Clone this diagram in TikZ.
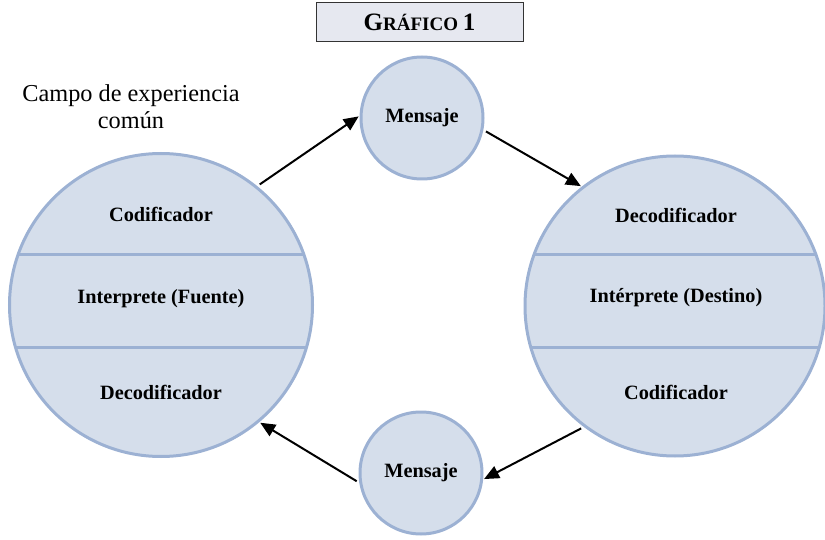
\documentclass[tikz,border=0pt]{standalone}
\usepackage{fontspec}
\setmainfont{Liberation Serif}
\usetikzlibrary{arrows.meta}
\definecolor{cfill}{HTML}{D5DEEB}
\definecolor{cline}{HTML}{9CB1D3}
\definecolor{tfill}{HTML}{E6E8F0}
\begin{document}
\begin{tikzpicture}[x=1pt,y=-1pt,
  bigc/.style={circle,fill=cfill,draw=cline,line width=3pt,inner sep=0pt},
  smallc/.style={circle,fill=cfill,draw=cline,line width=3pt,minimum size=122pt,inner sep=0pt},
  lab/.style={font=\fontsize{20.3}{24}\selectfont\bfseries},
  chord/.style={draw=cline,line width=3pt},
  arr/.style={line width=2pt,-{Triangle[length=15pt,width=13pt]},shorten <=3pt,shorten >=1pt}]
\useasboundingbox (0,0) rectangle (825,540);
% title
\node[draw=black!80,fill=tfill,line width=1pt,minimum width=207pt,minimum height=39pt,
  font=\bfseries] (T) at (419.5,22.5)
  {\fontsize{25}{28}\selectfont G\fontsize{19}{28}\selectfont RÁFICO \fontsize{25}{28}\selectfont 1};
% caption
\node[align=center,font=\fontsize{24.3}{27}\selectfont] (C) at (131,107) {Campo de experiencia\\común};
% big circles
\node[bigc,minimum size=303pt] (L) at (161,305) {};
\node[bigc,minimum size=300pt] (R) at (675,306) {};
\begin{scope}
  \clip (161,305) circle (151.5pt);
  \draw[chord] (0,255) -- (330,255) (0,347) -- (330,347);
\end{scope}
\begin{scope}
  \clip (675,306) circle (150pt);
  \draw[chord] (500,255) -- (830,255) (500,347) -- (830,347);
\end{scope}
\node[lab] (L1) at (161,214) {Codificador};
\node[lab] (L2) at (161,299) {Interprete (Fuente)};
\node[lab] (L3) at (161,392) {Decodificador};
\node[lab] (R1) at (676,215) {Decodificador};
\node[lab] (R2) at (676,298) {Intérprete (Destino)};
\node[lab] (R3) at (676,392) {Codificador};
% small circles
\node[smallc,lab] (M1) at (422,118) {Mensaje};
\node[smallc,lab] (M2) at (421,473) {Mensaje};
% arrows
\draw[arr] (L.51) -- (M1.178);
\draw[arr] (M1.-11) -- (R.128);
\draw[arr] (R.233) -- (M2.-6);
\draw[arr] (M2.189) -- (L.-50);
\end{tikzpicture}
\end{document}
